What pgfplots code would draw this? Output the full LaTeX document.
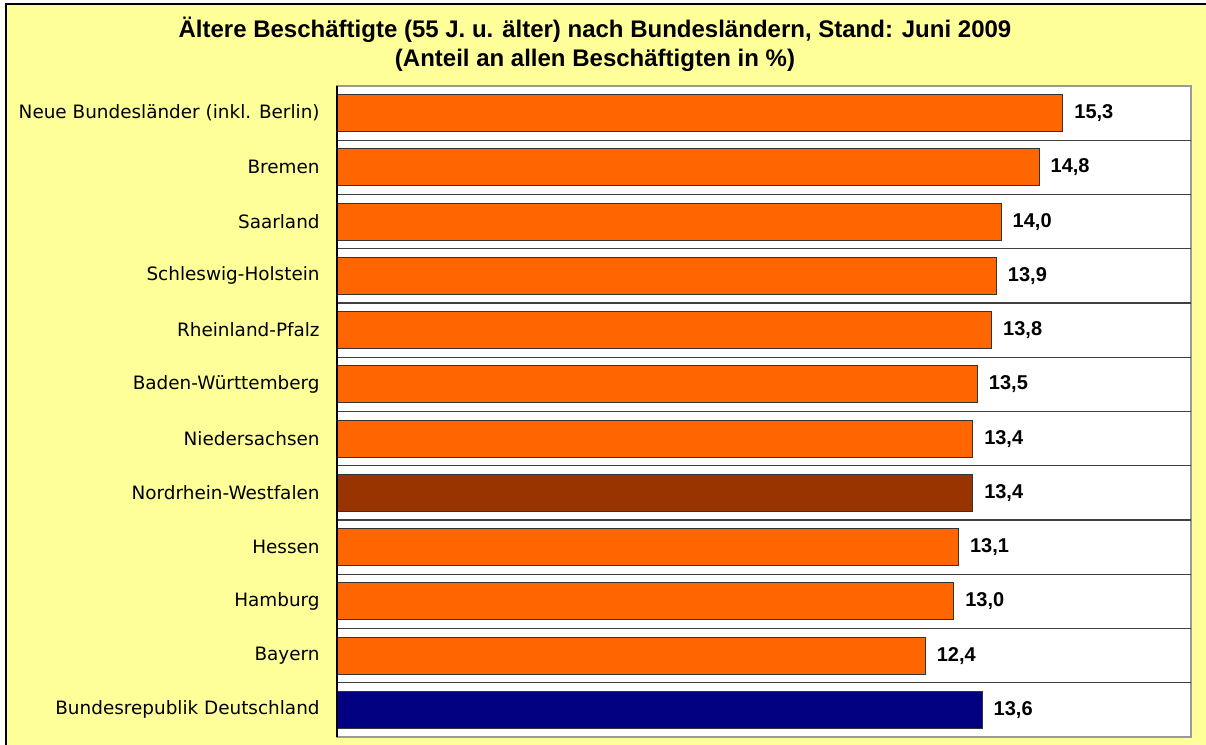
\documentclass[border=0pt]{standalone}
\usepackage{pgfplots}
\pgfplotsset{compat=1.18}
\usepackage{fontspec}
\setmainfont{DejaVu Sans}
\newfontfamily\titlefont{Liberation Sans}
\definecolor{bgyellow}{HTML}{FFFF99}
\definecolor{barorange}{HTML}{FF6600}
\definecolor{barbrown}{HTML}{993300}
\definecolor{barnavy}{HTML}{000080}
\begin{document}
\begin{tikzpicture}[x=1pt,y=1pt]
\clip (-168.5,-4) rectangle (434.5,368.5);
\fill[bgyellow] (-165.5,-20) rectangle (450,366.5);
\draw[black, line width=0.8pt] (-165.5,-20) -- (-165.5,366.5) -- (450,366.5);
\node[align=center, font=\titlefont\bfseries\fontsize{12}{14.5}\selectfont] at (129,346.5)
  {Ältere Beschäftigte (55 J. u. älter) nach Bundesländern, Stand: Juni 2009\\(Anteil an allen Beschäftigten in \%)};
\begin{axis}[
  at={(0,0)}, anchor=south west, scale only axis,
  width=427pt, height=325.5pt,
  xbar, bar shift=0pt, bar width=0.68,
  xmin=0, xmax=18, ymin=-0.5, ymax=11.5, y dir=reverse,
  xtick=\empty,
  ytick={0,...,11},
  yticklabels={Neue Bundesländer (inkl. Berlin), Bremen, Saarland, Schleswig-Holstein, Rheinland-Pfalz, Baden-Württemberg, Niedersachsen, Nordrhein-Westfalen, Hessen, Hamburg, Bayern, Bundesrepublik Deutschland},
  yticklabel style={font=\fontsize{9.2}{10}\selectfont, anchor=east, inner sep=0pt, xshift=-8.5pt},
  major tick length=0pt,
  extra y ticks={0.5,1.5,2.5,3.5,4.5,5.5,6.5,7.5,8.5,9.5,10.5},
  extra y tick labels={},
  extra y tick style={grid=major, major grid style={black!75, line width=0.6pt}},
  axis background/.style={fill=white},
  axis line style={draw=black!40, line width=0.8pt},
  point meta=x,
  nodes near coords={\pgfmathprintnumber[fixed, fixed zerofill, precision=1, use comma, assume math mode=true]{\pgfplotspointmeta}},
  nodes near coords style={font=\titlefont\bfseries\fontsize{10}{11}\selectfont, anchor=west, inner sep=0pt, xshift=5.5pt},
  clip=false,
]
\addplot[fill=barorange, draw=black!80, line width=0.5pt] coordinates {
  (15.3,0) (14.8,1) (14.0,2) (13.9,3) (13.8,4) (13.5,5) (13.4,6) (13.1,8) (13.0,9) (12.4,10)};
\addplot[fill=barbrown, draw=black!80, line width=0.5pt] coordinates {(13.4,7)};
\addplot[fill=barnavy, draw=black!80, line width=0.5pt] coordinates {(13.6,11)};
\draw[black, line width=1pt] (axis cs:0,-0.5) -- (axis cs:0,11.5);
\end{axis}
\end{tikzpicture}
\end{document}
